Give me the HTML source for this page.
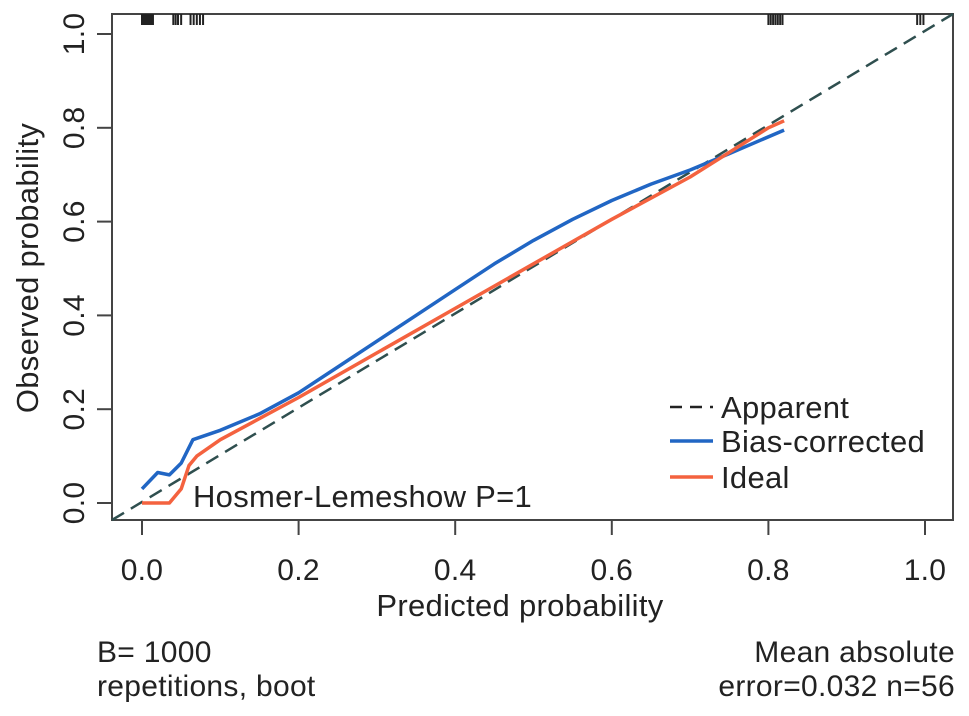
<!DOCTYPE html>
<html><head><meta charset="utf-8"><style>
body{margin:0;background:#fff}
svg text{font-family:"Liberation Sans",sans-serif;fill:#222;letter-spacing:0.3px}
</style></head><body>
<svg id="chart" width="969" height="711" viewBox="0 0 969 711" xmlns="http://www.w3.org/2000/svg">
<rect x="112" y="14" width="841" height="506" fill="none" stroke="#444" stroke-width="2"/>
<g id="rug"></g>
<line x1="112" y1="520" x2="953" y2="14" stroke="#2f4f4f" stroke-width="2.5" stroke-dasharray="14,8"/>
<path id="blue" fill="none" stroke="#2166c4" stroke-width="3.5" stroke-linejoin="round"/>
<path id="orange" fill="none" stroke="#f4623f" stroke-width="3.5" stroke-linejoin="round"/>
<g id="xaxis"></g>
<g id="yaxis"></g>
<text x="520" y="616" font-size="31" text-anchor="middle">Predicted probability</text>
<text transform="translate(38,268) rotate(-90)" font-size="31" text-anchor="middle">Observed probability</text>
<text x="193" y="507" font-size="31">Hosmer-Lemeshow P=1</text>
<g>
<line x1="670" y1="407" x2="713" y2="407" stroke="#222" stroke-width="2.5" stroke-dasharray="12,8"/>
<text x="721" y="418" font-size="31">Apparent</text>
<line x1="670" y1="441" x2="713" y2="441" stroke="#2166c4" stroke-width="3.5"/>
<text x="721" y="452" font-size="31">Bias-corrected</text>
<line x1="670" y1="477" x2="713" y2="477" stroke="#f4623f" stroke-width="3.5"/>
<text x="721" y="488" font-size="31">Ideal</text>
</g>
<text x="97" y="662" font-size="30">B= 1000</text>
<text x="97" y="696" font-size="30">repetitions, boot</text>
<text x="955" y="662" font-size="30" text-anchor="end">Mean absolute</text>
<text x="955" y="696" font-size="30" text-anchor="end">error=0.032 n=56</text>
</svg>
<script>
const ticks=[0,0.2,0.4,0.6,0.8,1.0];
const tickLabels=["0.0","0.2","0.4","0.6","0.8","1.0"];
const blueX=[0,0.02,0.035,0.05,0.065,0.1,0.15,0.2,0.25,0.3,0.35,0.4,0.45,0.5,0.55,0.6,0.65,0.7,0.75,0.82];
const blueY=[0.03,0.065,0.06,0.085,0.135,0.155,0.19,0.235,0.29,0.345,0.4,0.455,0.51,0.56,0.605,0.645,0.68,0.71,0.745,0.795];
const idealX=[0,0.035,0.05,0.06,0.07,0.1,0.15,0.2,0.3,0.4,0.5,0.6,0.7,0.8,0.82];
const idealY=[0,0,0.03,0.08,0.1,0.135,0.18,0.225,0.32,0.415,0.51,0.605,0.695,0.8,0.815];
const rugX=[0,0.002,0.004,0.006,0.008,0.01,0.012,0.014,0.04,0.043,0.046,0.05,0.062,0.066,0.07,0.074,0.078,0.8,0.803,0.806,0.809,0.812,0.815,0.818,0.99,0.994,0.998];
const sx=v=>142+v*783, sy=v=>503-v*469;
const NS="http://www.w3.org/2000/svg";
function mk(t,a,p){const e=document.createElementNS(NS,t);for(const k in a)e.setAttribute(k,a[k]);p.appendChild(e);return e;}
function path(xs,ys){return xs.map((x,i)=>(i?"L":"M")+sx(x).toFixed(1)+","+sy(ys[i]).toFixed(1)).join("");}
document.getElementById('blue').setAttribute('d',path(blueX,blueY));
document.getElementById('orange').setAttribute('d',path(idealX,idealY));
const rug=document.getElementById('rug');
rugX.forEach(v=>{const l=mk('line',{x1:sx(v),x2:sx(v),y1:14,y2:25,stroke:'#222','stroke-width':2},rug);

});
const xa=document.getElementById('xaxis'),ya=document.getElementById('yaxis');
ticks.forEach((v,i)=>{
const l=mk('line',{x1:sx(v),x2:sx(v),y1:520,y2:535,stroke:'#444','stroke-width':2},xa);


const t=mk('text',{x:sx(v),y:580,'font-size':30,'text-anchor':'middle'},xa);t.textContent=tickLabels[i];


const l2=mk('line',{x1:97,x2:112,y1:sy(v),y2:sy(v),stroke:'#444','stroke-width':2},ya);


const t2=mk('text',{transform:`translate(84,${sy(v)}) rotate(-90)`,'font-size':30,'text-anchor':'middle'},ya);t2.textContent=tickLabels[i];


});
</script>
</body></html>
